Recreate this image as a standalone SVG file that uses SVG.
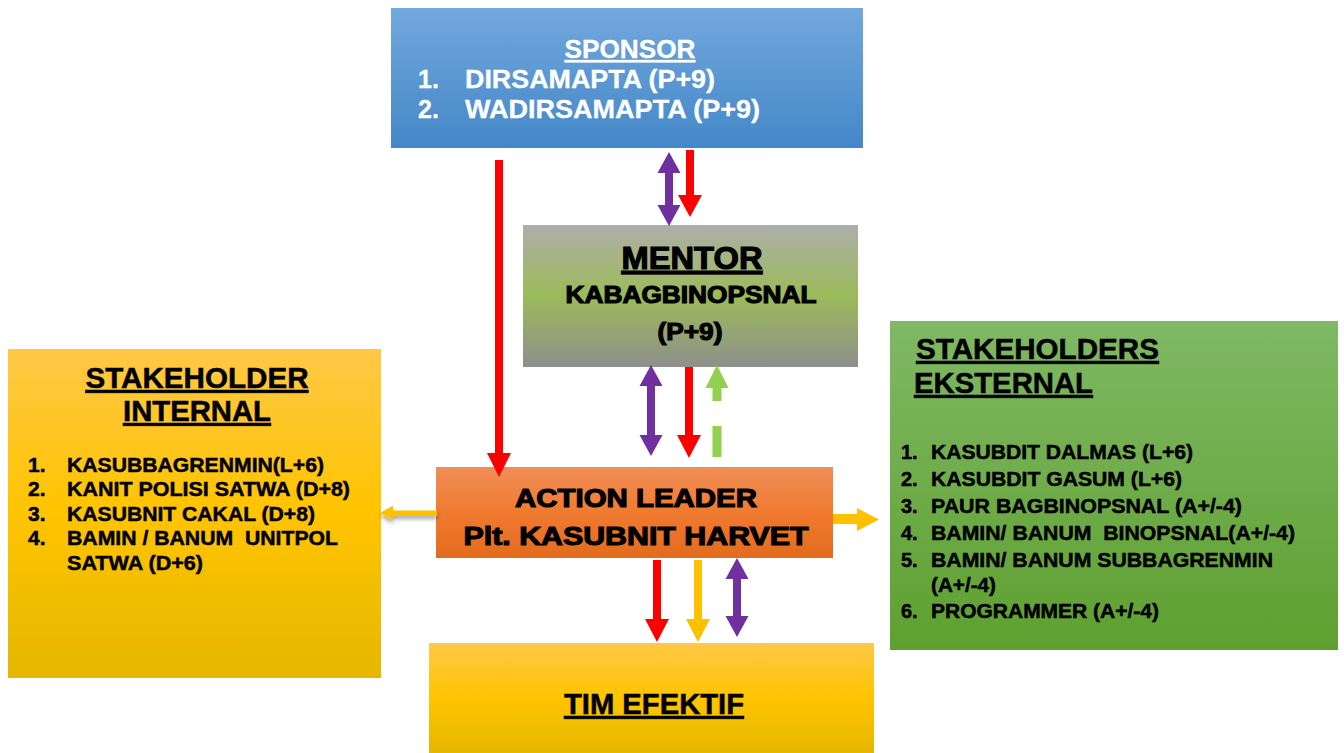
<svg xmlns="http://www.w3.org/2000/svg" width="1344" height="753" viewBox="0 0 1344 753">
<style>
text{font-family:"Liberation Sans",Arial,sans-serif;font-weight:bold;}
.w{fill:#ffffff;stroke:#ffffff;stroke-width:0.3;}
.k{fill:#000000;stroke:#000000;stroke-width:0.5;}
.kh{fill:#000000;stroke:#000000;stroke-width:1.1;}
.u{text-decoration:underline;}
.red{fill:#ff0000;}
.pur{fill:#7030a0;}
.grn{fill:#92d050;}
.yel{fill:#ffc000;}
</style>
<defs>
<linearGradient id="gBlue" x1="0" y1="0" x2="0" y2="1">
<stop offset="0" stop-color="#72a8dd"/><stop offset="1" stop-color="#4487c8"/>
</linearGradient>
<linearGradient id="gMentor" x1="0" y1="0" x2="0" y2="1">
<stop offset="0" stop-color="#aeaea9"/><stop offset="0.5" stop-color="#9bbb59"/><stop offset="1" stop-color="#8f8f8c"/>
</linearGradient>
<linearGradient id="gYel" x1="0" y1="0" x2="0" y2="1">
<stop offset="0" stop-color="#ffc846"/><stop offset="0.5" stop-color="#ffc400"/><stop offset="1" stop-color="#e5b700"/>
</linearGradient>
<linearGradient id="gOra" x1="0" y1="0" x2="0" y2="1">
<stop offset="0" stop-color="#f08e58"/><stop offset="0.5" stop-color="#f07a30"/><stop offset="1" stop-color="#e36b1d"/>
</linearGradient>
<linearGradient id="gGrn" x1="0" y1="0" x2="0" y2="1">
<stop offset="0" stop-color="#80b864"/><stop offset="1" stop-color="#5ea030"/>
</linearGradient>
<filter id="sh" x="-20%" y="-50%" width="140%" height="250%">
<feDropShadow dx="0" dy="3" stdDeviation="2" flood-color="#000" flood-opacity="0.35"/>
</filter>
</defs>

<g id="sponsor">
<rect x="391" y="8" width="472" height="140" fill="url(#gBlue)"/>
<text class="w u" x="630" y="58" font-size="25" text-anchor="middle" textLength="131" lengthAdjust="spacingAndGlyphs">SPONSOR</text>
<text class="w" x="418" y="88" font-size="25">1.</text>
<text class="w" x="465" y="88" font-size="25" textLength="250" lengthAdjust="spacingAndGlyphs">DIRSAMAPTA (P+9)</text>
<text class="w" x="418" y="118" font-size="25">2.</text>
<text class="w" x="465" y="118" font-size="25" textLength="295" lengthAdjust="spacingAndGlyphs">WADIRSAMAPTA (P+9)</text>
</g>

<g id="mentor">
<rect x="523" y="225" width="335" height="142" fill="url(#gMentor)"/>
<text class="kh u" x="692" y="269" font-size="31" text-anchor="middle" textLength="141" lengthAdjust="spacingAndGlyphs">MENTOR</text>
<text class="kh" x="691" y="303" font-size="23" text-anchor="middle" textLength="251" lengthAdjust="spacingAndGlyphs">KABAGBINOPSNAL</text>
<text class="kh" x="690" y="340" font-size="23" text-anchor="middle" textLength="65" lengthAdjust="spacingAndGlyphs">(P+9)</text>
</g>

<g id="stakeholder-internal">
<rect x="8" y="349" width="373" height="329" fill="url(#gYel)"/>
<text class="k u" x="197" y="388" font-size="29" text-anchor="middle" textLength="223" lengthAdjust="spacingAndGlyphs">STAKEHOLDER</text>
<text class="k u" x="197" y="421" font-size="29" text-anchor="middle" textLength="148" lengthAdjust="spacingAndGlyphs">INTERNAL</text>
<g font-size="21">
<text class="k" x="28" y="472">1.</text>
<text class="k" x="67" y="472" textLength="257" lengthAdjust="spacingAndGlyphs">KASUBBAGRENMIN(L+6)</text>
<text class="k" x="28" y="496">2.</text>
<text class="k" x="67" y="496" textLength="283" lengthAdjust="spacingAndGlyphs">KANIT POLISI SATWA (D+8)</text>
<text class="k" x="28" y="521">3.</text>
<text class="k" x="67" y="521" textLength="248" lengthAdjust="spacingAndGlyphs">KASUBNIT CAKAL (D+8)</text>
<text class="k" x="28" y="545">4.</text>
<text class="k" x="67" y="545" textLength="271" lengthAdjust="spacingAndGlyphs" xml:space="preserve">BAMIN / BANUM  UNITPOL</text>
<text class="k" x="67" y="570" textLength="136" lengthAdjust="spacingAndGlyphs">SATWA (D+6)</text>
</g>
</g>

<g id="action-leader">
<rect x="436" y="467" width="397" height="91" fill="url(#gOra)"/>
<text class="kh" x="636" y="507" font-size="25" text-anchor="middle" textLength="242" lengthAdjust="spacingAndGlyphs">ACTION LEADER</text>
<text class="kh" x="636" y="545" font-size="25" text-anchor="middle" textLength="345" lengthAdjust="spacingAndGlyphs">Plt. KASUBNIT HARVET</text>
</g>

<g id="stakeholders-eksternal">
<rect x="890" y="321" width="448" height="329" fill="url(#gGrn)"/>
<text class="k u" x="916" y="359" font-size="29" textLength="243" lengthAdjust="spacingAndGlyphs">STAKEHOLDERS</text>
<text class="k u" x="914" y="393" font-size="29" textLength="179" lengthAdjust="spacingAndGlyphs">EKSTERNAL</text>
<g font-size="20">
<text class="k" x="901" y="459">1.</text>
<text class="k" x="931" y="459" textLength="262" lengthAdjust="spacingAndGlyphs">KASUBDIT DALMAS (L+6)</text>
<text class="k" x="901" y="486">2.</text>
<text class="k" x="931" y="486" textLength="251" lengthAdjust="spacingAndGlyphs">KASUBDIT GASUM (L+6)</text>
<text class="k" x="901" y="513">3.</text>
<text class="k" x="931" y="513" textLength="311" lengthAdjust="spacingAndGlyphs">PAUR BAGBINOPSNAL (A+/-4)</text>
<text class="k" x="901" y="540">4.</text>
<text class="k" x="931" y="540" textLength="364" lengthAdjust="spacingAndGlyphs" xml:space="preserve">BAMIN/ BANUM  BINOPSNAL(A+/-4)</text>
<text class="k" x="901" y="567">5.</text>
<text class="k" x="931" y="567" textLength="342" lengthAdjust="spacingAndGlyphs">BAMIN/ BANUM SUBBAGRENMIN</text>
<text class="k" x="931" y="592" textLength="65" lengthAdjust="spacingAndGlyphs">(A+/-4)</text>
<text class="k" x="901" y="618">6.</text>
<text class="k" x="931" y="618" textLength="228" lengthAdjust="spacingAndGlyphs">PROGRAMMER (A+/-4)</text>
</g>
</g>

<g id="tim-efektif">
<rect x="429" y="643" width="445" height="110" fill="url(#gYel)"/>
<text class="k u" x="654" y="714" font-size="29" text-anchor="middle" textLength="180" lengthAdjust="spacingAndGlyphs">TIM EFEKTIF</text>
</g>

<g id="connectors">
<path class="red" d="M495,160 H503 V453 H511 L499,477 L487,453 H495 Z"/>
<path class="pur" d="M669,152 L680.5,173 H673 V205 H680.5 L669,226 L657.5,205 H665 V173 H657.5 Z"/>
<path class="red" d="M686,150 H694 V195 H702 L690,217 L678,195 H686 Z"/>
<path class="pur" d="M651,365 L662.5,386 H655 V435 H662.5 L651,456 L639.5,435 H647 V386 H639.5 Z"/>
<path class="red" d="M685,367 H693 V435 H701 L689,458 L677,435 H685 Z"/>
<path class="grn" d="M717,365 L728.5,388 H721.5 V401 H712.5 V388 H705.5 Z"/>
<rect class="grn" x="712.5" y="426" width="9" height="31"/>
<path class="yel" filter="url(#sh)" d="M437,510.5 V516 H393 V520.5 L380,513 L393,505.5 V510.5 Z"/>
<path class="yel" d="M833,514 H857 V508 L879,519.5 L857,531 V524 H833 Z"/>
<path class="red" d="M653,560 H661 V619 H669 L657,642 L645,619 H653 Z"/>
<path class="yel" d="M694,560 H702 V619 H710 L698,642 L686,619 H694 Z"/>
<path class="pur" d="M737,558 L748.5,579 H741 V616 H748.5 L737,637 L725.5,616 H733 V579 H725.5 Z"/>
</g>
</svg>
